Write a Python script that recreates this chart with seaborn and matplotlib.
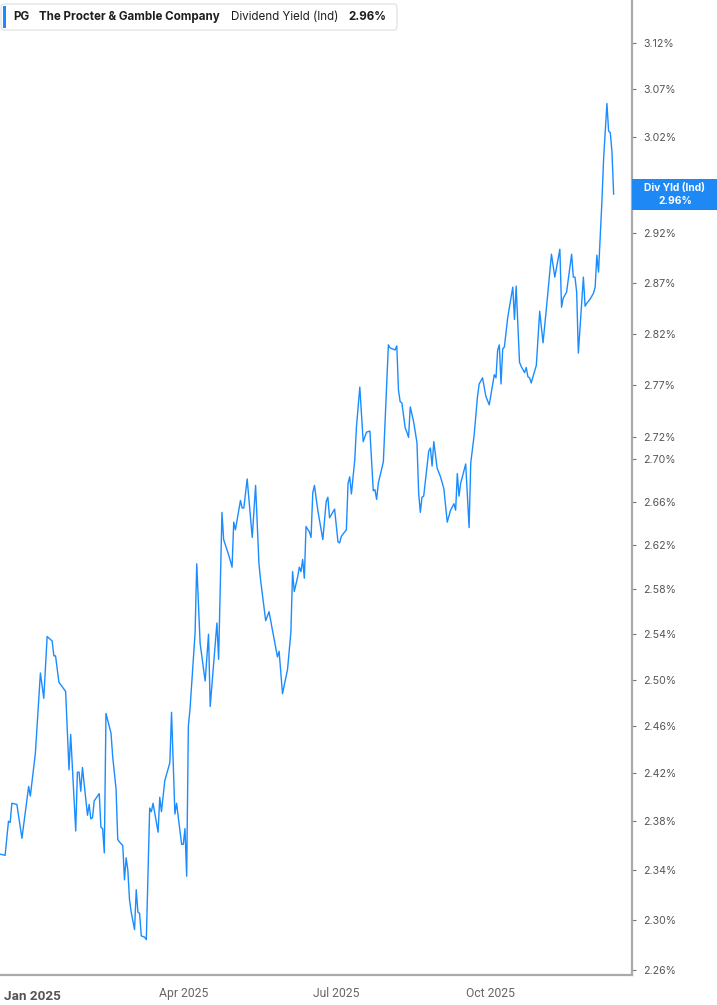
import pandas as pd
import numpy as np
import matplotlib
matplotlib.use("Agg")
import matplotlib.pyplot as plt
import seaborn as sns
from matplotlib.ticker import FixedLocator, FuncFormatter, NullLocator
from matplotlib.patches import FancyBboxPatch, Rectangle

# -------- DATA --------
dates = [
    "2024-12-13", "2024-12-16", "2024-12-18", "2024-12-19", "2024-12-20", "2024-12-23",
    "2024-12-26", "2024-12-30", "2024-12-31", "2025-01-03", "2025-01-06", "2025-01-08",
    "2025-01-10", "2025-01-13", "2025-01-14", "2025-01-15", "2025-01-17", "2025-01-21",
    "2025-01-23", "2025-01-24", "2025-01-27", "2025-01-28", "2025-01-29", "2025-01-30",
    "2025-01-31", "2025-02-03", "2025-02-04", "2025-02-05", "2025-02-06", "2025-02-07",
    "2025-02-10", "2025-02-11", "2025-02-12", "2025-02-13", "2025-02-14", "2025-02-17",
    "2025-02-18", "2025-02-20", "2025-02-21", "2025-02-22", "2025-02-24", "2025-02-25",
    "2025-02-26", "2025-02-27", "2025-02-28", "2025-03-01", "2025-03-03", "2025-03-04",
    "2025-03-05", "2025-03-06", "2025-03-07", "2025-03-09", "2025-03-10", "2025-03-12",
    "2025-03-13", "2025-03-14", "2025-03-17", "2025-03-18", "2025-03-19", "2025-03-21",
    "2025-03-24", "2025-03-25", "2025-03-27", "2025-03-28", "2025-03-31", "2025-04-01",
    "2025-04-02", "2025-04-03", "2025-04-04", "2025-04-05", "2025-04-08", "2025-04-09",
    "2025-04-11", "2025-04-14", "2025-04-16", "2025-04-17", "2025-04-21", "2025-04-22",
    "2025-04-24", "2025-04-25", "2025-04-28", "2025-04-30", "2025-05-01", "2025-05-02",
    "2025-05-05", "2025-05-06", "2025-05-07", "2025-05-09", "2025-05-12", "2025-05-14",
    "2025-05-16", "2025-05-17", "2025-05-20", "2025-05-22", "2025-05-27", "2025-05-28",
    "2025-05-30", "2025-06-02", "2025-06-04", "2025-06-05", "2025-06-06", "2025-06-08",
    "2025-06-09", "2025-06-10", "2025-06-11", "2025-06-12", "2025-06-13", "2025-06-15",
    "2025-06-16", "2025-06-17", "2025-06-18", "2025-06-20", "2025-06-23", "2025-06-25",
    "2025-06-26", "2025-06-27", "2025-06-30", "2025-07-02", "2025-07-03", "2025-07-04",
    "2025-07-07", "2025-07-08", "2025-07-09", "2025-07-10", "2025-07-12", "2025-07-13",
    "2025-07-15", "2025-07-17", "2025-07-19", "2025-07-21", "2025-07-23", "2025-07-24",
    "2025-07-25", "2025-07-26", "2025-07-29", "2025-08-01", "2025-08-02", "2025-08-05",
    "2025-08-06", "2025-08-07", "2025-08-08", "2025-08-09", "2025-08-11", "2025-08-12",
    "2025-08-13", "2025-08-14", "2025-08-16", "2025-08-18", "2025-08-19", "2025-08-20",
    "2025-08-21", "2025-08-22", "2025-08-25", "2025-08-26", "2025-08-27", "2025-08-28",
    "2025-08-30", "2025-09-01", "2025-09-03", "2025-09-05", "2025-09-07", "2025-09-09",
    "2025-09-10", "2025-09-11", "2025-09-12", "2025-09-13", "2025-09-16", "2025-09-18",
    "2025-09-19", "2025-09-21", "2025-09-23", "2025-09-24", "2025-09-26", "2025-09-28",
    "2025-09-30", "2025-10-03", "2025-10-04", "2025-10-05", "2025-10-06", "2025-10-07",
    "2025-10-08", "2025-10-09", "2025-10-11", "2025-10-14", "2025-10-15", "2025-10-16",
    "2025-10-18", "2025-10-19", "2025-10-21", "2025-10-22", "2025-10-23", "2025-10-24",
    "2025-10-25", "2025-10-26", "2025-10-28", "2025-10-30", "2025-11-01", "2025-11-03",
    "2025-11-06", "2025-11-08", "2025-11-11", "2025-11-12", "2025-11-13", "2025-11-15",
    "2025-11-18", "2025-11-19", "2025-11-20", "2025-11-21", "2025-11-22", "2025-11-25",
    "2025-11-26", "2025-11-27", "2025-11-29", "2025-12-01", "2025-12-02", "2025-12-03",
    "2025-12-04", "2025-12-06", "2025-12-07", "2025-12-09", "2025-12-10", "2025-12-11",
    "2025-12-12", "2025-12-13",
]

div_yield = [
    2.353, 2.352, 2.380, 2.379, 2.395, 2.394,
    2.366, 2.409, 2.401, 2.437, 2.506, 2.484,
    2.538, 2.534, 2.521, 2.521, 2.498, 2.490,
    2.423, 2.453, 2.372, 2.421, 2.421, 2.405,
    2.425, 2.385, 2.394, 2.382, 2.383, 2.397,
    2.403, 2.375, 2.374, 2.354, 2.471, 2.454,
    2.434, 2.407, 2.365, 2.363, 2.360, 2.332,
    2.350, 2.340, 2.316, 2.306, 2.292, 2.324,
    2.306, 2.305, 2.287, 2.286, 2.284, 2.391,
    2.388, 2.395, 2.371, 2.400, 2.388, 2.414,
    2.429, 2.472, 2.386, 2.395, 2.361, 2.361,
    2.374, 2.335, 2.460, 2.475, 2.541, 2.603,
    2.532, 2.499, 2.540, 2.477, 2.550, 2.518,
    2.650, 2.625, 2.611, 2.600, 2.641, 2.634,
    2.661, 2.654, 2.654, 2.681, 2.627, 2.675,
    2.603, 2.588, 2.552, 2.560, 2.520, 2.525,
    2.488, 2.509, 2.542, 2.596, 2.578, 2.591,
    2.600, 2.596, 2.607, 2.590, 2.637, 2.632,
    2.627, 2.668, 2.675, 2.652, 2.625, 2.660,
    2.664, 2.645, 2.653, 2.623, 2.622, 2.628,
    2.634, 2.677, 2.683, 2.667, 2.699, 2.730,
    2.768, 2.716, 2.725, 2.726, 2.670, 2.671,
    2.662, 2.677, 2.697, 2.809, 2.806, 2.804,
    2.808, 2.765, 2.754, 2.753, 2.729, 2.725,
    2.720, 2.749, 2.735, 2.715, 2.668, 2.650,
    2.664, 2.665, 2.707, 2.710, 2.693, 2.716,
    2.691, 2.683, 2.672, 2.641, 2.652, 2.658,
    2.652, 2.686, 2.665, 2.677, 2.695, 2.636,
    2.696, 2.722, 2.759, 2.771, 2.777, 2.759,
    2.751, 2.780, 2.777, 2.804, 2.809, 2.771,
    2.805, 2.807, 2.836, 2.866, 2.834, 2.867,
    2.792, 2.788, 2.782, 2.787, 2.778, 2.777,
    2.772, 2.778, 2.789, 2.842, 2.811, 2.845,
    2.899, 2.876, 2.904, 2.846, 2.855, 2.861,
    2.899, 2.876, 2.876, 2.861, 2.801, 2.876,
    2.847, 2.850, 2.854, 2.860, 2.866, 2.898,
    2.881, 2.952, 2.996, 3.055, 3.026, 3.024,
    3.004, 2.960,
]

y_ticks = [2.26, 2.30, 2.34, 2.38, 2.42, 2.46, 2.50, 2.54, 2.58, 2.62, 2.66,
           2.70, 2.72, 2.77, 2.82, 2.87, 2.92, 2.97, 3.02, 3.07, 3.12]
hidden_tick = 2.97  # sits under the last-value flag
x_ticks = ["2025-01-01", "2025-04-01", "2025-07-01", "2025-10-01"]
x_tick_labels = ["Jan 2025", "Apr 2025", "Jul 2025", "Oct 2025"]

ticker = "PG"
company = "The Procter & Gamble Company"
metric = "Dividend Yield (Ind)"
last_value = div_yield[-1]

df = pd.DataFrame({"date": pd.to_datetime(dates), "yield": div_yield})

# -------- PLOT --------
W, H = 717, 1005
BLUE = "#1a8cff"

sns.set_style("white")
plt.rcParams["font.family"] = ["Inter", "DejaVu Sans"]

fig = plt.figure(figsize=(W / 100, H / 100), dpi=100)
ax = fig.add_axes([0, 30 / H, 632 / W, 975 / H])

sns.lineplot(data=df, x="date", y="yield", ax=ax, color=BLUE, linewidth=1.0,
             estimator=None, legend=False)

ax.set_yscale("log")
ax.set_ylim(2.2561, 3.167)
ax.set_xlim(pd.Timestamp("2024-12-12 23:00"), pd.Timestamp("2025-12-23 22:00"))


def pct(v, pos):
    if abs(v - hidden_tick) < 1e-6:
        return ""
    return f"{v:.2f}%"


ax.yaxis.tick_right()
ax.yaxis.set_major_locator(FixedLocator(y_ticks))
ax.yaxis.set_minor_locator(NullLocator())
ax.yaxis.set_major_formatter(FuncFormatter(pct))
ax.tick_params(axis="y", which="major", length=3, width=0.8, color="#777777",
               labelsize=7.6, labelcolor="#555555", pad=5, right=True, left=False)

ax.set_xticks(pd.to_datetime(x_ticks))
ax.set_xticklabels(x_tick_labels, fontfamily="Roboto")
ax.tick_params(axis="x", which="major", length=4.5, width=0.9, color="#aaaaaa",
               labelsize=8.7, labelcolor="#666666", pad=4)
ax.xaxis.set_minor_locator(NullLocator())
first = ax.get_xticklabels()[0]
first.set_fontweight("bold")
first.set_fontsize(9.7)
first.set_color("#555555")
first.set_y(-0.003)

ax.set_xlabel("")
ax.set_ylabel("")
for side in ["top", "left"]:
    ax.spines[side].set_visible(False)
for side in ["right", "bottom"]:
    ax.spines[side].set_color("#aaaaaa")
    ax.spines[side].set_linewidth(1.6)


def fx(x):
    return x / W


def fy(y):
    return 1 - y / H


# header legend box
fig.add_artist(FancyBboxPatch((fx(1), fy(30)), fx(396), 26 / H,
                              boxstyle="round,pad=0,rounding_size=0.004",
                              transform=fig.transFigure, facecolor="white",
                              edgecolor="#e2e2e2", linewidth=0.9, zorder=5))
fig.add_artist(Rectangle((fx(3), fy(28)), fx(3), 22 / H, transform=fig.transFigure,
                         facecolor=BLUE, edgecolor="none", zorder=6))
hy = fy(17)
hs = 8.35
fig.text(fx(13), hy, ticker, fontsize=hs, fontweight="bold", color="#1e1e1e",
         va="center", zorder=7)
fig.text(fx(39), hy, company, fontsize=hs, fontweight="bold", color="#1e1e1e",
         va="center", zorder=7)
fig.text(fx(231), hy, metric, fontsize=hs, color="#1e1e1e", va="center", zorder=7)
fig.text(fx(348), hy, f"{last_value:.2f}%", fontsize=hs, fontweight="bold",
         color="#1e1e1e", va="center", zorder=7)

# last value flag on the right axis
fig.add_artist(Rectangle((fx(632), fy(210)), fx(85), 31 / H, transform=fig.transFigure,
                         facecolor="#1e88f5", edgecolor="none", zorder=8))
fig.text(fx(675), fy(188.5), "Div Yld (Ind)", fontsize=7.4, fontweight="bold",
         color="white", ha="center", va="center", zorder=9)
fig.text(fx(675), fy(201), f"{last_value:.2f}%", fontsize=7.4, fontweight="bold",
         color="white", ha="center", va="center", zorder=9)

fig.savefig("out.png", dpi=100, facecolor="white")
plt.close(fig)
